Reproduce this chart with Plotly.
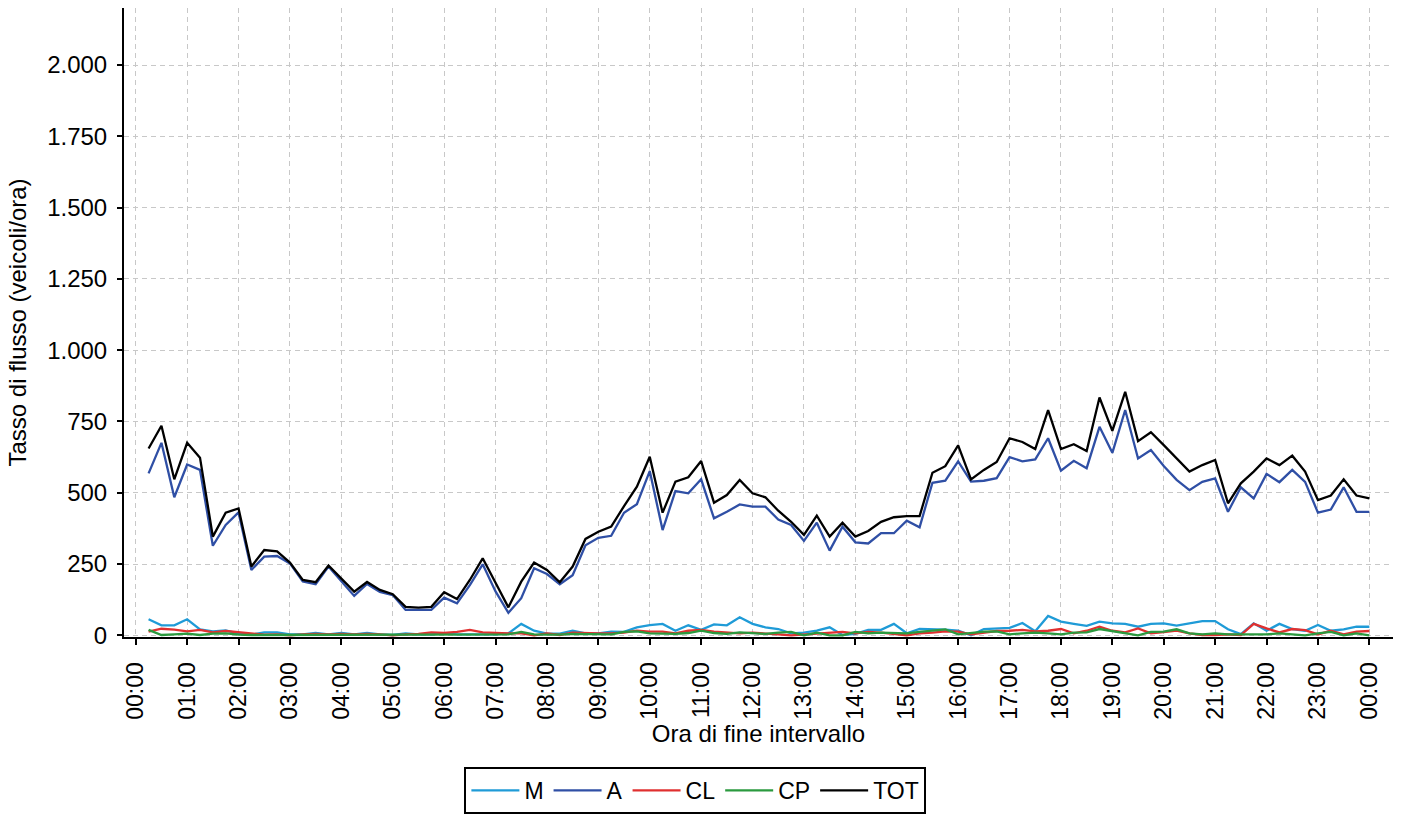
import pandas as pd
import plotly.graph_objects as go

# 15-minute interval end times: 00:15 ... 24:00
times = pd.date_range("2024-01-01 00:15", periods=96, freq="15min")

M = [56, 35, 35, 56, 21, 14, 17, 6, 2, 10, 10, 3, 3, 8, 3, 8, 3, 8, 3, 1, 7, 3, 3, 7, 3,
     3, 3, 3, 7, 40, 16, 6, 6, 16, 7, 7, 13, 12, 28, 36, 40, 16, 35, 19, 38, 35, 63, 40,
     28, 22, 7, 9, 16, 28, 1, 5, 19, 19, 40, 7, 22, 22, 20, 16, 0, 22, 23, 26, 43, 14, 68, 48, 40, 33,
     48, 42, 40, 30, 40, 42, 34, 42, 50, 50, 21, 4, 42, 16, 40, 22, 16, 36, 16, 21, 30, 30]

A = [568, 675, 484, 599, 580, 314, 387, 431, 229, 276, 278, 252, 189, 179, 241, 191, 138, 180, 152, 141, 89, 89, 89, 132, 112,
     176, 249, 154, 79, 130, 235, 215, 179, 211, 316, 342, 349, 430, 460, 576, 369, 506, 498, 547, 410, 433, 459, 451,
     451, 406, 387, 331, 395, 297, 381, 326, 322, 358, 358, 402, 379, 535, 542, 610, 539, 542, 551, 625, 610, 617, 691, 577, 612, 586,
     731, 640, 790, 620, 650, 594, 545, 509, 538, 550, 433, 519, 480, 566, 537, 580, 538, 430, 441, 519, 433, 433]

CL = [13, 23, 20, 14, 19, 10, 15, 10, 6, 2, 3, 0, 3, 5, 3, 5, 3, 5, 3, 0, 3, 5, 10, 8, 12,
      19, 10, 8, 7, 7, 0, 7, 1, 9, 7, 7, 7, 9, 16, 13, 13, 7, 16, 19, 13, 10, 7, 9,
      7, 3, 0, 3, 7, 9, 12, 7, 12, 9, 5, 0, 7, 9, 14, 13, 3, 9, 15, 16, 19, 14, 16, 22, 7, 16,
      30, 16, 10, 24, 7, 11, 16, 7, 1, 1, 3, 1, 40, 24, 10, 22, 18, 3, 16, 3, 13, 15]

CP = [19, 1, 3, 6, 1, 6, 7, 2, 1, 1, 2, 1, 1, 2, 1, 2, 1, 2, 1, 2, 1, 2, 1, 3, 3,
      1, 1, 2, 3, 12, 3, 2, 2, 5, 5, 5, 3, 12, 14, 7, 5, 5, 8, 16, 8, 5, 10, 7,
      5, 9, 12, 0, 9, 0, 0, 12, 7, 9, 9, 7, 12, 16, 21, 3, 9, 13, 14, 3, 7, 9, 7, 3, 9, 10,
      22, 15, 9, 0, 12, 13, 21, 7, 3, 7, 3, 3, 3, 3, 7, 3, 0, 7, 12, 0, 7, 0]

TOT = [655, 735, 547, 675, 623, 346, 430, 445, 241, 299, 294, 255, 194, 186, 245, 200, 153, 187, 159, 144, 100, 97, 100, 151, 127,
       194, 270, 184, 98, 188, 255, 229, 186, 241, 338, 363, 381, 453, 521, 626, 430, 539, 554, 611, 465, 492, 545, 498,
       484, 437, 398, 352, 420, 346, 395, 346, 366, 398, 414, 418, 418, 570, 593, 666, 547, 580, 608, 691, 678, 653, 790, 653, 670, 646,
       834, 717, 854, 681, 712, 667, 620, 574, 597, 615, 463, 533, 574, 620, 597, 630, 574, 474, 490, 547, 490, 480]

series_names = ["M", "A", "CL", "CP", "TOT"]
series_values = [M, A, CL, CP, TOT]
series_colors = ["#1f9bd7", "#2f4fa5", "#e03030", "#2b9a3f", "#000000"]

y_tickvals = [0, 250, 500, 750, 1000, 1250, 1500, 1750, 2000]

FONT = "Liberation Sans, Arial, sans-serif"

fig = go.Figure()
for name, vals, col in zip(series_names, series_values, series_colors):
    fig.add_trace(go.Scatter(x=times, y=vals, mode="lines", name=name,
                             line=dict(color=col, width=2.3)))

day0 = pd.Timestamp("2024-01-01 00:00")
x_start = day0 - pd.Timedelta(minutes=13.7)
x_end = day0 + pd.Timedelta(hours=24.46)

fig.update_layout(
    width=1402, height=817,
    margin=dict(l=124, r=9, t=8, b=180),
    paper_bgcolor="white", plot_bgcolor="white",
    separators=",.",
    font=dict(family=FONT, size=24, color="black"),
    showlegend=True,
    legend=dict(orientation="h", xref="container", yref="container",
                x=0.496, xanchor="center", y=1 - 767 / 817, yanchor="top",
                bordercolor="black", borderwidth=2, font=dict(size=23),
                itemwidth=48, tracegroupgap=0),
)

fig.update_xaxes(
    automargin=False,
    range=[x_start, x_end],
    tick0=day0, dtick=3600000, tickformat="%H:%M", tickangle=-90,
    ticks="outside", ticklen=6, tickwidth=1.5, tickcolor="black",
    tickfont=dict(size=23), ticklabelstandoff=8,
    showline=True, linecolor="black", linewidth=2,
    showgrid=True, gridcolor="#c8c8c8", gridwidth=1, griddash="5px,4px",
    zeroline=False,
    title=dict(text="Ora di fine intervallo", font=dict(size=24), standoff=6),
)

fig.update_yaxes(
    automargin=False,
    range=[-6, 2200],
    tickvals=y_tickvals, tickformat=",d",
    ticks="outside", ticklen=5, tickwidth=1.5, tickcolor="black",
    tickfont=dict(size=24), ticklabelstandoff=5,
    showline=True, linecolor="black", linewidth=2,
    showgrid=True, gridcolor="#c8c8c8", gridwidth=1, griddash="5px,4px",
    zeroline=False,
    title=dict(text="Tasso di flusso (veicoli/ora)", font=dict(size=24), standoff=14),
)

fig.write_html("out.html", config={"displayModeBar": False},
               post_script="document.body.style.margin='0';")
